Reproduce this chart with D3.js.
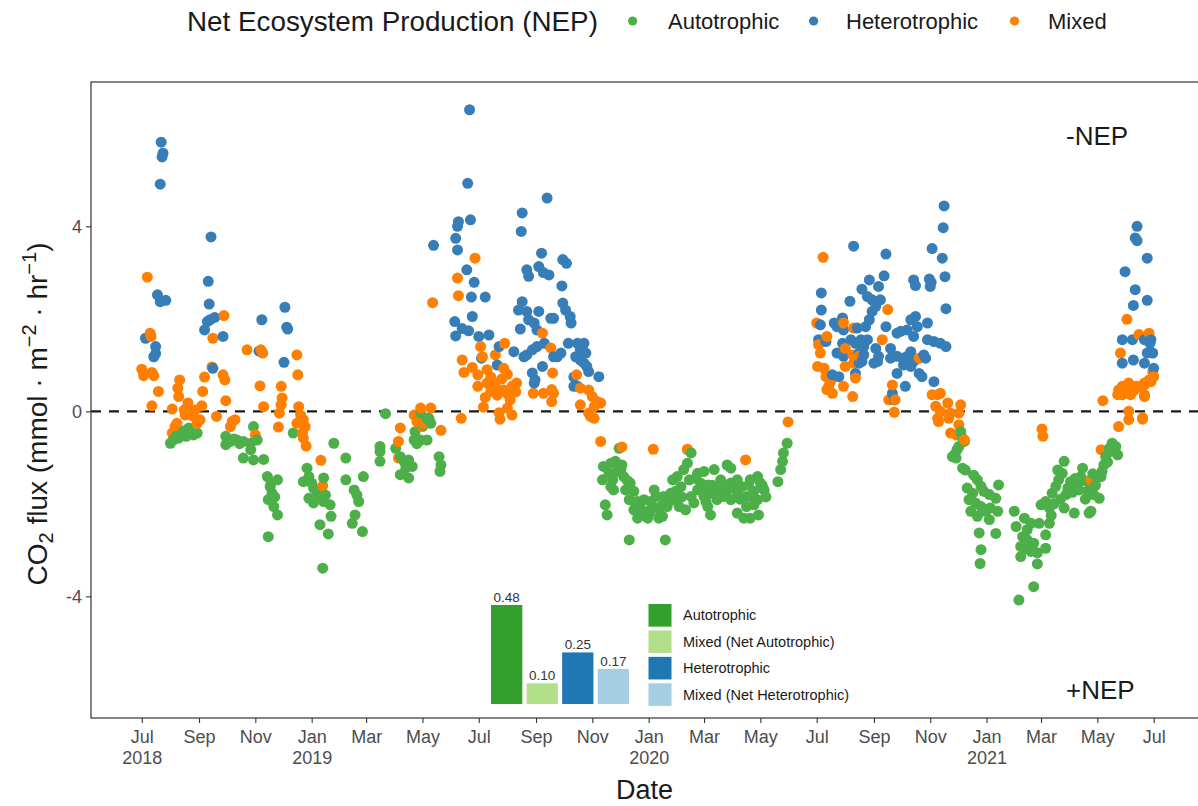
<!DOCTYPE html>
<html>
<head>
<meta charset="utf-8">
<script src="https://cdn.jsdelivr.net/npm/d3@7"></script>
<style>
  body { margin: 0; background: #fff; }
  svg { display: block; }
  text { font-family: "Liberation Sans", Arial, Helvetica, sans-serif; }
</style>
</head>
<body>
<svg id="chart" width="1198" height="806"></svg>
<script>
// Day numbers count from the first day of the record.
const START = "2018-07-01";

// [day, CO2 flux in mmol m-2 hr-1]
const autotrophic = [
  [31,-0.69],[37,-0.54],[44,-0.47],[51,-0.36],[56,-0.51],[60,-0.47],[48,-0.54],[40,-0.58],[34,-0.62],[46,-0.42],
  [121,-0.33],[91,-0.54],[96,-0.65],[103,-0.62],[110,-0.65],[118,-0.69],[125,-0.62],[91,-0.72],[118,-0.83],[110,-1.01],
  [121,-1.05],[132,-1.04],[100,-0.60],[106,-0.70],
  [136,-1.41],[147,-1.48],[139,-1.63],[141,-1.77],[137,-1.91],[143,-2.06],[147,-2.24],[137,-2.71],[140,-1.55],[144,-1.85],
  [164,-0.47],
  [179,-1.23],[175,-1.52],[181,-1.41],[186,-1.66],[197,-1.44],[181,-1.88],[193,-1.84],[199,-1.81],[186,-1.98],[204,-2.02],
  [197,-1.95],[190,-1.75],[184,-1.55],[193,-2.45],[205,-2.27],[202,-2.65],[196,-3.39],
  [208,-0.69],[221,-1.01],[221,-1.48],[230,-1.70],[233,-1.81],[231,-2.24],[228,-2.42],[239,-2.60],[240,-1.41],[235,-1.95],
  [264,-0.05],[258,-0.76],[258,-0.87],[258,-1.08],
  [302,-0.04],[309,-0.15],[313,-0.26],[311,-0.15],[296,-0.44],[295,-0.62],[302,-0.62],[309,-0.62],[275,-0.80],[280,-0.98],
  [284,-1.08],[289,-1.05],[286,-1.23],[280,-1.37],[289,-1.44],[293,-1.19],[322,-0.98],[324,-1.16],[323,-1.30],[305,-0.30],[298,-0.70],
  [517,-0.80],[513,-1.08],[520,-1.16],[500,-1.19],[506,-1.34],[499,-1.48],[510,-1.48],[508,-1.63],[522,-1.41],[519,-1.26],
  [524,-1.70],[533,-1.73],[528,-1.91],[537,-1.95],[544,-1.91],[540,-2.09],[533,-2.13],[546,-2.17],[553,-2.06],[555,-1.70],
  [557,-1.84],[548,-2.31],[537,-2.31],[560,-2.31],[502,-2.02],[504,-2.24],[528,-2.78],[567,-2.78],[575,-1.48],[580,-1.41],
  [587,-1.26],[591,-1.12],[595,-0.90],[593,-1.48],[584,-1.63],[573,-1.77],[576,-1.91],[569,-2.06],[582,-2.06],[589,-2.13],
  [564,-2.27],[602,-1.34],[609,-1.30],[620,-1.26],[634,-1.16],[638,-1.23],[605,-1.55],[613,-1.59],[602,-1.70],[609,-1.84],
  [616,-1.77],[623,-1.70],[630,-1.63],[638,-1.55],[645,-1.48],[630,-1.84],[623,-1.91],[638,-1.91],[616,-2.24],[645,-2.20],
  [652,-2.31],[655,-1.84],[663,-1.73],[659,-1.48],[667,-1.41],[670,-1.55],[674,-1.70],[667,-1.91],[663,-2.02],[668,-2.24],
  [645,-1.77],[650,-1.63],[699,-0.69],[695,-0.90],[694,-1.08],[692,-1.26],[689,-1.52],[595,-1.84],[598,-1.98],[508,-1.12],
  [529,-1.55],[551,-1.95],[565,-1.84],[578,-1.73],[613,-2.06],[627,-1.48],[655,-2.06],[659,-2.31],[591,-0.83],
  [600,-1.45],[606,-1.70],[611,-1.95],[618,-1.60],[625,-1.80],[633,-1.75],[641,-1.65],[648,-1.90],[657,-1.60],[661,-1.85],
  [672,-1.60],[676,-1.85],[535,-2.00],[542,-2.25],[550,-2.20],[558,-2.10],[562,-2.05],[571,-1.95],[585,-1.85],[526,-1.50],
  [515,-1.30],[511,-1.70],
  [887,-0.44],[889,-0.58],[891,-0.65],[885,-0.76],[880,-0.94],[882,-1.01],[878,-0.98],[883,-0.83],
  [889,-1.23],[892,-1.27],[901,-1.38],[905,-1.48],[894,-1.66],[900,-1.77],[909,-1.62],[912,-1.73],[918,-1.80],[928,-1.59],
  [925,-1.88],[896,-1.91],[903,-1.98],[909,-2.06],[914,-2.16],[919,-2.09],[927,-2.16],[905,-2.27],[898,-2.16],[918,-2.34],
  [907,-2.63],[925,-2.64],[909,-2.99],[908,-3.29],
  [945,-2.16],[947,-2.49],[956,-2.31],[959,-2.56],[963,-2.42],[954,-2.71],[959,-2.78],[966,-2.85],[952,-2.92],[957,-2.96],
  [963,-3.03],[952,-3.14],[970,-3.06],[979,-2.96],[979,-2.67],[970,-3.30],[966,-3.79],[950,-4.08],[972,-2.42],[983,-2.42],
  [974,-2.02],[979,-1.95],[983,-2.09],[986,-1.77],[990,-1.62],[993,-1.48],[997,-1.34],[999,-1.08],[992,-1.27],[1003,-1.66],
  [1006,-1.52],[1013,-1.55],[1019,-1.23],[1017,-1.41],[1024,-1.73],[1028,-1.62],[1031,-1.80],[1035,-1.44],[1039,-1.41],[1037,-1.88],
  [1028,-2.16],[1010,-2.20],[999,-2.09],[1026,-2.20],[1042,-1.16],[1044,-0.98],[1049,-0.87],[1051,-0.69],[1055,-0.76],[1057,-0.94],
  [995,-1.90],[1001,-1.80],[1008,-1.75],[1015,-1.70],[1021,-1.50],[1033,-1.60],[1040,-1.30],[1046,-1.10],[985,-2.25],[988,-2.00],
  [1011,-1.45],[1022,-1.90],[1030,-1.35],[1048,-0.80]
];

const heterotrophic = [
  [21,5.82],[23,5.58],[22,5.50],[20,4.91],[75,3.77],[17,2.52],[20,2.37],[26,2.40],[72,2.81],[73,2.32],
  [71,1.94],[74,1.98],[79,2.03],[68,1.76],[88,1.62],[4,1.58],[15,1.40],[15,1.25],[13,1.18],[77,0.93],
  [130,1.98],[127,1.30],[155,2.25],[157,1.82],[158,1.78],[154,1.06],
  [316,3.59],
  [355,6.52],[353,4.93],[343,4.10],[356,4.14],[342,4.00],[340,3.74],[342,3.49],[352,3.06],[360,2.79],[357,2.47],
  [372,2.47],[358,2.05],[339,1.94],[347,1.79],[354,1.74],[340,1.63],[365,1.62],[376,1.65],[387,1.40],[403,1.29],
  [368,1.15],[385,1.00],
  [439,4.61],[412,4.29],[411,3.89],[433,3.42],[417,3.06],[419,2.92],[430,3.13],[435,3.00],[441,2.95],[456,3.28],
  [460,3.20],[455,2.71],[412,2.37],[408,2.19],[417,2.16],[430,2.16],[443,2.01],[446,2.01],[456,2.34],[459,2.19],
  [464,2.05],[465,1.91],[410,1.78],[419,1.98],[425,1.91],[428,1.76],[436,1.47],[428,1.40],[423,1.33],[417,1.22],
  [414,1.18],[462,1.47],[472,1.47],[479,1.47],[475,1.33],[481,1.26],[454,1.26],[450,1.18],[446,1.18],[479,1.04],
  [482,0.97],[484,0.86],[475,1.11],[470,1.18],[434,0.97],[423,0.83],[426,0.68],[425,0.61],[468,0.74],[472,0.54],
  [468,0.54],[495,0.75],
  [771,3.57],[806,3.40],[856,3.52],[868,3.97],[867,3.31],[869,4.44],[736,2.56],[736,2.19],[767,2.38],[788,2.84],
  [780,2.64],[798,2.70],[804,2.93],[836,2.84],[838,2.72],[853,2.86],[854,2.70],[855,2.79],[870,2.91],[871,2.22],
  [786,2.48],[791,2.41],[795,2.27],[800,2.41],[791,2.16],[788,1.98],[784,1.83],[775,1.80],[806,1.83],[750,1.91],
  [753,1.83],[759,2.02],[760,1.76],[735,1.87],[733,1.55],[741,1.51],[759,1.47],[768,1.55],[773,1.47],[779,1.55],
  [786,1.55],[782,1.40],[753,1.26],[760,1.19],[777,1.26],[782,1.22],[795,1.36],[798,1.19],[797,1.08],[793,1.04],
  [811,1.36],[818,1.69],[822,1.73],[829,1.76],[833,1.98],[838,2.05],[840,1.83],[836,1.62],[851,1.91],[811,1.15],
  [818,1.19],[824,1.15],[829,1.19],[833,1.29],[825,1.00],[833,0.97],[829,1.08],[836,1.08],[851,1.55],[858,1.51],
  [865,1.47],[871,1.40],[849,1.15],[847,1.22],[842,0.82],[845,0.75],[858,0.64],[818,0.82],[827,0.54],[777,1.04],
  [780,1.08],[773,0.82],[755,0.75],[748,0.79],[813,0.39],[815,0.25],
  [1078,4.00],[1076,3.75],[1078,3.69],[1089,3.31],[1065,3.02],[1076,2.63],[1089,2.40],[1074,2.29],[1062,1.55],[1073,1.55],
  [1086,1.55],[1093,1.55],[1089,1.26],[1095,1.26],[1062,1.04],[1074,1.11],[1086,1.04],[1096,0.93],[1092,1.47]
];

const mixed = [
  [6,2.90],[89,2.07],[77,1.58],[9,1.69],[10,1.62],[0,0.91],[2,0.77],[11,0.84],[13,0.77],[18,0.43],
  [11,0.12],[76,0.96],[68,0.74],[66,0.43],[65,0.12],[88,0.79],[90,0.68],[91,0.23],[81,-0.11],[41,0.68],
  [39,0.50],[40,0.32],[46,0.03],[53,0.00],[58,0.03],[63,-0.18],[60,-0.26],[47,-0.08],[38,-0.26],[36,-0.33],
  [33,-0.47],[33,0.05],[50,0.18],[55,-0.10],[114,1.33],[129,1.33],[131,1.26],[128,0.55],[132,0.10],[98,-0.22],
  [101,-0.18],[96,-0.33],[123,-0.51],[151,0.54],[152,0.29],[151,0.14],[149,-0.04],[148,-0.34],[168,1.22],[169,0.79],
  [170,0.10],[172,-0.08],[168,-0.26],[175,-0.18],[177,-0.33],[174,-0.47],[175,-0.58],[178,-0.75],[194,-1.06],[196,-1.61],
  [302,0.07],[313,0.07],[295,-0.08],[298,-0.22],[305,-0.26],[304,-0.33],[280,-0.36],[278,-0.65],[324,-0.41],[278,-1.01],
  [346,-0.15],[315,2.35],
  [361,3.31],[342,2.88],[343,2.50],[367,1.40],[383,1.22],[393,1.47],[347,1.11],[369,1.18],[349,0.84],[364,0.79],
  [374,0.90],[378,0.74],[392,0.93],[396,0.80],[364,0.54],[374,0.61],[383,0.54],[392,0.46],[401,0.54],[406,0.61],
  [378,0.43],[396,0.38],[405,0.42],[370,0.09],[387,-0.03],[396,0.07],[401,-0.08],[388,-0.17],[434,1.69],[443,1.37],
  [445,0.83],[471,0.79],[435,0.39],[444,0.47],[446,0.39],[444,0.21],[424,0.39],[475,0.50],[484,0.46],[488,0.32],
  [493,0.21],[497,0.18],[490,0.10],[475,0.14],[484,-0.04],[490,-0.15],[486,-0.11],[497,-0.65],
  [380,0.65],[385,0.35],[372,0.30],[358,0.95],[390,0.70],[399,0.25],
  [520,-0.77],[554,-0.82],[591,-0.82],[654,-1.05],[700,-0.23],
  [738,3.33],[808,2.20],[731,1.91],[742,1.62],[760,1.91],[771,1.80],[802,1.55],[733,1.44],[735,1.26],[762,1.36],
  [770,1.22],[777,1.19],[771,1.04],[762,0.97],[732,0.97],[739,0.93],[741,0.75],[746,0.64],[742,0.47],[748,0.39],
  [744,0.54],[760,0.54],[770,0.32],[773,0.72],[842,1.15],[813,0.57],[809,0.25],[816,0.25],[815,-0.02],
  [856,0.36],[865,0.39],[862,0.36],[873,0.18],[887,0.14],[860,0.11],[865,0.00],[876,-0.04],[885,-0.04],[862,-0.15],
  [863,-0.22],[874,-0.15],[885,-0.29],[876,-0.47],[882,-0.51],[891,-0.62],
  [975,-0.38],[976,-0.54],[1028,-1.48],[1039,-0.83],[1041,0.23],[1058,-0.33],[1069,0.00],[1069,-0.18],[1084,-0.17],[1057,0.36],
  [1062,0.54],[1069,0.47],[1077,0.54],[1086,0.57],[1093,0.64],[1086,0.32],[1071,0.36],
  [1067,1.99],[1060,1.26],[1080,1.66],[1091,1.69],[1095,0.86],[1096,0.75],[1091,0.68],[1086,0.61],[1082,0.54],[1075,0.46],
  [1067,0.43],[1062,0.36],[1058,0.46],[1069,0.61],[1086,0.36],[1084,-0.14]
];

const nepClasses = ["Autotrophic", "Heterotrophic", "Mixed"];
const nepColors = ["#4DAF4A", "#377EB8", "#FF7F00"];

// Share of days in each class (inset)
const fractionLabels = ["Autotrophic", "Mixed (Net Autotrophic)", "Heterotrophic", "Mixed (Net Heterotrophic)"];
const fractionValues = [0.48, 0.10, 0.25, 0.17];
const fractionColors = ["#33A02C", "#B2DF8A", "#1F78B4", "#A6CEE3"];

const yTicks = [-4, 0, 4];
const monthNames = ["Jan","Feb","Mar","Apr","May","Jun","Jul","Aug","Sep","Oct","Nov","Dec"];

// ---------------------------------------------------------------
const svg = d3.select("#chart");
const panel = { left: 91, top: 82, right: 1210, bottom: 718 };
const FONT_DARK = "#1a1a1a", FONT_AXIS = "#4d4d4d", LINE = "#333333";

svg.append("rect").attr("width", 1198).attr("height", 806).attr("fill", "#fff");

const t0 = new Date(START + "T00:00:00Z");
const toDate = d => d3.utcDay.offset(t0, d);

const x = d3.scaleUtc()
  .domain([new Date(Date.UTC(2018, 4, 7)), new Date(Date.UTC(2021, 7, 31))])
  .range([panel.left, panel.right]);
const y = d3.scaleLinear().domain([-6.63, 7.12]).range([panel.bottom, panel.top]);
const color = d3.scaleOrdinal().domain(nepClasses).range(nepColors);

svg.append("clipPath").attr("id", "panel-clip")
  .append("rect").attr("x", panel.left).attr("y", panel.top)
  .attr("width", panel.right - panel.left).attr("height", panel.bottom - panel.top);

// zero line
svg.append("line")
  .attr("x1", panel.left).attr("x2", panel.right)
  .attr("y1", y(0)).attr("y2", y(0))
  .attr("stroke", "#1a1a1a").attr("stroke-width", 2.2)
  .attr("stroke-dasharray", "10,8");

// points, drawn in time order
const points = [];
[autotrophic, heterotrophic, mixed].forEach((series, i) => {
  series.forEach(([day, flux]) => points.push({ day, flux, cls: nepClasses[i] }));
});
points.sort((a, b) => a.day - b.day);

svg.append("g").attr("clip-path", "url(#panel-clip)")
  .selectAll("circle").data(points).join("circle")
  .attr("cx", d => x(toDate(d.day)))
  .attr("cy", d => y(d.flux))
  .attr("r", 5.5)
  .attr("fill", d => color(d.cls));

// panel border
svg.append("rect")
  .attr("x", panel.left).attr("y", panel.top)
  .attr("width", panel.right - panel.left).attr("height", panel.bottom - panel.top)
  .attr("fill", "none").attr("stroke", LINE).attr("stroke-width", 1.2);

// x axis
const xTickValues = d3.utcMonth.every(2).range(new Date(Date.UTC(2018, 6, 1)), new Date(Date.UTC(2021, 6, 2)));
const xAxis = svg.append("g").attr("transform", `translate(0,${panel.bottom})`)
  .call(d3.axisBottom(x).tickValues(xTickValues).tickSize(5).tickSizeOuter(0).tickFormat(() => ""));
xAxis.select(".domain").remove();
xAxis.selectAll(".tick line").attr("stroke", LINE).attr("stroke-width", 1.1);
xAxis.selectAll(".tick text").remove();
xAxis.selectAll(".tick").each(function (d, i) {
  const g = d3.select(this);
  const t = g.append("text").attr("fill", FONT_AXIS).attr("font-size", 18)
    .attr("text-anchor", "middle").attr("y", 25);
  t.append("tspan").attr("x", 0).text(monthNames[d.getUTCMonth()]);
  if (i === 0 || d.getUTCMonth() === 0) {
    t.append("tspan").attr("x", 0).attr("dy", 21).text(d.getUTCFullYear());
  }
});

// y axis
const yAxis = svg.append("g").attr("transform", `translate(${panel.left},0)`)
  .call(d3.axisLeft(y).tickValues(yTicks).tickSize(5).tickFormat(d => String(d)));
yAxis.select(".domain").remove();
yAxis.selectAll(".tick line").attr("stroke", LINE).attr("stroke-width", 1.1);
yAxis.selectAll(".tick text").attr("fill", FONT_AXIS).attr("font-size", 18)
  .attr("font-family", "'Liberation Sans', Arial, sans-serif").attr("x", -9);

// axis titles
svg.append("text")
  .attr("x", (panel.left + panel.right) / 2 - 6).attr("y", 799)
  .attr("text-anchor", "middle").attr("fill", FONT_DARK).attr("font-size", 27)
  .text("Date");

const yTitle = svg.append("text")
  .attr("transform", `translate(47,${(panel.top + panel.bottom) / 2 + 14}) rotate(-90)`)
  .attr("text-anchor", "middle").attr("fill", FONT_DARK).attr("font-size", 28);
yTitle.append("tspan").text("CO");
yTitle.append("tspan").attr("font-size", 20).attr("dy", 6).text("2");
yTitle.append("tspan").attr("dy", -6).text(" flux (mmol · m");
yTitle.append("tspan").attr("font-size", 20).attr("dy", -11).text("−2");
yTitle.append("tspan").attr("dy", 11).text(" · hr");
yTitle.append("tspan").attr("font-size", 20).attr("dy", -11).text("−1");
yTitle.append("tspan").attr("dy", 11).text(")");

// NEP direction notes
svg.append("text").attr("x", 1066).attr("y", 145).attr("font-size", 26).attr("fill", FONT_DARK).text("-NEP");
svg.append("text").attr("x", 1066).attr("y", 699).attr("font-size", 26).attr("fill", FONT_DARK).text("+NEP");

// top legend
const legend = svg.append("g");
legend.append("text").attr("x", 187).attr("y", 21).attr("dominant-baseline", "central")
  .attr("font-size", 27.8).attr("fill", FONT_DARK).text("Net Ecosystem Production (NEP)");
const legendDotX = [632.6, 813.6, 1014.5];
const legendTextX = [668, 846, 1048];
nepClasses.forEach((c, i) => {
  legend.append("circle").attr("cx", legendDotX[i]).attr("cy", 21).attr("r", 4.6).attr("fill", color(c));
  legend.append("text").attr("x", legendTextX[i]).attr("y", 21).attr("dominant-baseline", "central")
    .attr("font-size", 22).attr("fill", FONT_DARK).text(c);
});

// inset: share of days per class
const inset = svg.append("g");
const bx = d3.scaleBand().domain(fractionLabels).range([491, 629]).paddingInner(0.12);
const by = d3.scaleLinear().domain([0, 0.48]).range([704, 605]);
inset.selectAll("rect.bar").data(fractionLabels).join("rect").attr("class", "bar")
  .attr("x", d => bx(d)).attr("width", bx.bandwidth())
  .attr("y", (d, i) => by(fractionValues[i]))
  .attr("height", (d, i) => by(0) - by(fractionValues[i]))
  .attr("fill", (d, i) => fractionColors[i]);
inset.selectAll("text.val").data(fractionLabels).join("text").attr("class", "val")
  .attr("x", d => bx(d) + bx.bandwidth() / 2)
  .attr("y", (d, i) => by(fractionValues[i]) - 3)
  .attr("text-anchor", "middle").attr("font-size", 13.5).attr("fill", "#333")
  .text((d, i) => fractionValues[i].toFixed(2));

const keyY = d3.scalePoint().domain(fractionLabels).range([604, 683.3]);
inset.selectAll("rect.key").data(fractionLabels).join("rect").attr("class", "key")
  .attr("x", 648.5).attr("y", d => keyY(d)).attr("width", 23).attr("height", 22.6)
  .attr("fill", (d, i) => fractionColors[i]);
inset.selectAll("text.key").data(fractionLabels).join("text").attr("class", "key")
  .attr("x", 683).attr("y", d => keyY(d) + 11.3).attr("dominant-baseline", "central")
  .attr("font-size", 14.5).attr("fill", FONT_DARK).text(d => d);
</script>
</body>
</html>
